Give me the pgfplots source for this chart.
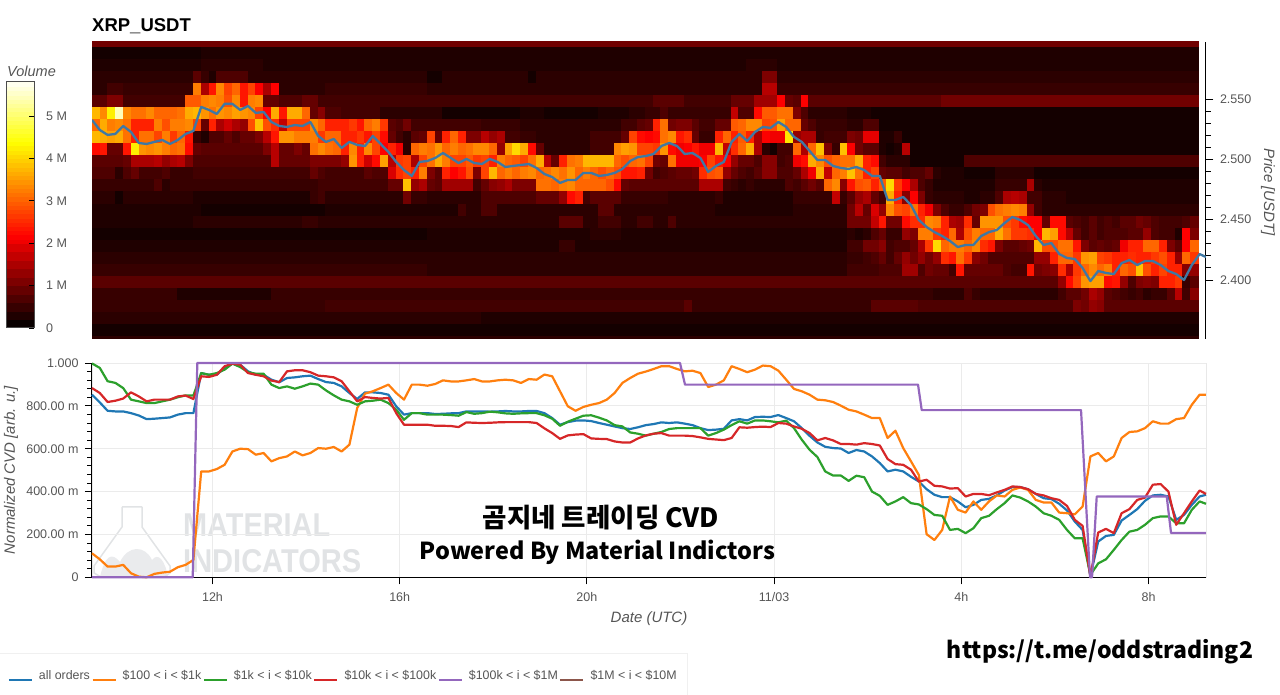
\documentclass[border=0pt]{standalone}
\usepackage{pgfplots}
\pgfplotsset{compat=1.18}
\usepackage{fontspec}
\setmainfont{Liberation Sans}
\newfontfamily\kr{Noto Sans CJK KR}
\definecolor{cBlue}{HTML}{1F77B4}
\definecolor{cOrange}{HTML}{FF7F0E}
\definecolor{cGreen}{HTML}{2CA02C}
\definecolor{cRed}{HTML}{D62728}
\definecolor{cPurple}{HTML}{9467BD}
\definecolor{cBrown}{HTML}{8C564B}
\definecolor{cPrice}{HTML}{3F78A4}
\definecolor{txt}{HTML}{555555}
\definecolor{wm}{HTML}{E1E3E5}
\pgfplotsset{colormap={hotm}{rgb255(0)=(8,0,0) rgb255(365)=(255,0,0) rgb255(746)=(255,255,0) rgb255(1000)=(255,255,255)}}
% Heat map: \heatrow{price}{last column/volume in 0.1 M, ...}
\newtoks\hc \newtoks\hrow \newcount\hcol
\def\heatpoint#1#2{\pgfmathsetmacro\hx{9.425+(\the\hcol-1)*0.16645}\pgfmathsetmacro\hy{#1-0.005}%
  \edef\tmp{\the\hrow(\hx,\hy)[#2] }\global\hrow\expandafter{\tmp}}
\def\heatfill#1#2#3{\xdef\lastv{#3}\loop\ifnum\hcol<#2\relax
  \global\advance\hcol by 1
  \heatpoint{#1}{#3}\repeat}
\def\heatrow#1#2{\global\hcol=0 \global\hrow={}%
  \foreach \e/\v in {#2}{\heatfill{#1}{\e}{\v}}%
  \global\advance\hcol by 1 \heatpoint{#1}{\lastv}%
  \edef\tmp{\the\hc\the\hrow}\global\hc\expandafter{\tmp}}
\heatrow{2.349}{142/3}
\heatrow{2.359}{142/1}
\heatrow{2.369}{50/3,142/2}
\heatrow{2.379}{30/4,60/5,76/5,77/7,100/4,106/7,109/6,126/6,127/10,128/9,129/12,130/11,142/7}
\heatrow{2.389}{11/4,23/2,108/4,112/3,113/6,114/4,124/3,125/5,127/7,128/9,129/14,130/12,131/7,132/6,133/5,134/4,135/5,136/3,138/4,139/7,140/15,141/5,142/11}
\heatrow{2.399}{124/7,125/12,126/22,127/27,128/34,130/35,131/22,132/23,133/12,134/6,135/10,136/11,137/10,138/24,139/24,140/26,141/4,142/7}
\heatrow{2.409}{43/4,97/3,101/5,104/6,106/13,107/6,108/9,110/8,111/5,112/23,113/8,117/8,118/6,120/5,121/23,122/9,123/10,124/11,125/25,126/14,127/26,128/30,129/33,130/30,131/32,132/24,133/30,134/28,135/38,136/28,137/24,138/27,140/24,141/11,142/12}
\heatrow{2.419}{97/3,99/4,100/5,101/6,102/8,103/5,104/8,105/12,106/9,107/12,108/9,109/12,110/25,111/23,112/31,113/26,114/11,115/9,121/6,123/12,124/24,126/30,127/26,128/34,129/35,130/27,131/26,133/24,134/25,136/24,137/26,138/28,139/24,140/12,141/30,142/26}
\heatrow{2.429}{60/2,62/4,97/2,99/5,101/9,102/11,103/5,105/6,106/8,107/14,108/26,109/40,110/30,112/32,113/30,114/33,115/25,116/23,117/10,119/7,120/8,121/9,122/37,124/28,126/31,127/23,128/10,129/7,130/8,131/7,132/8,133/20,135/24,137/30,138/24,139/10,140/7,141/21,142/30}
\heatrow{2.439}{43/1,64/2,68/3,97/2,98/3,99/2,100/3,101/6,102/8,104/4,105/12,106/10,108/32,109/26,110/24,111/30,112/14,113/28,114/32,116/30,117/36,118/31,120/26,121/25,122/21,123/37,124/35,125/22,126/15,127/8,128/5,129/7,130/5,133/6,135/7,136/12,137/6,139/5,140/2,141/21,142/10}
\heatrow{2.449}{13/2,27/3,29/4,60/3,63/7,65/3,68/5,70/3,72/5,74/3,75/6,97/3,100/9,101/16,102/23,104/9,105/22,107/25,108/33,109/32,110/24,111/14,112/13,113/25,114/8,117/34,118/28,119/26,120/22,122/21,123/8,125/22,126/7,127/6,128/5,129/7,130/5,131/6,132/5,134/7,135/9,136/8,137/6,140/5,141/6,142/8}
\heatrow{2.459}{14/2,27/1,30/1,47/2,48/5,50/3,52/6,65/3,67/7,80/3,90/2,97/3,98/9,99/15,100/8,101/18,102/12,103/33,104/28,105/27,106/31,107/24,108/20,109/10,110/6,112/4,113/6,114/9,115/10,116/28,117/31,118/32,119/33,120/32,121/12,122/5,142/3}
\heatrow{2.469}{3/3,4/1,13/3,28/2,29/4,30/5,40/3,41/9,43/4,50/3,57/6,60/8,61/12,62/22,63/24,64/5,68/7,74/4,80/3,81/4,90/2,95/4,96/16,97/4,98/7,99/12,100/14,101/8,102/5,103/36,104/24,105/11,106/21,107/10,108/4,112/3,114/2,116/3,117/6,118/14,119/15,120/14,122/5,125/3,142/2}
\heatrow{2.479}{8/4,9/6,10/3,29/4,38/5,40/8,41/38,42/12,43/14,44/8,45/7,49/13,50/5,51/8,52/11,53/12,54/14,57/10,59/31,60/30,61/32,62/33,63/30,66/30,67/28,68/22,69/8,78/7,81/14,82/5,83/4,84/3,85/4,89/3,90/6,91/5,92/7,93/9,94/7,95/30,96/33,97/11,98/23,99/28,100/29,101/24,102/29,103/40,104/26,105/21,106/14,107/6,108/4,116/2,120/4,121/14,122/3,142/2}
\heatrow{2.489}{3/6,4/3,5/6,6/8,9/5,10/6,13/4,28/5,29/8,30/6,35/5,36/7,38/6,39/18,40/25,41/27,42/24,43/32,44/10,45/7,46/24,47/21,48/23,49/28,50/10,51/27,52/37,53/30,54/32,55/30,56/32,57/33,58/30,59/31,60/33,61/31,62/34,63/30,64/32,65/30,66/28,67/30,68/28,70/23,71/24,72/9,73/5,74/6,75/7,77/8,78/9,79/25,80/28,81/29,82/12,83/8,84/6,85/5,86/7,88/11,90/6,91/8,92/14,93/20,94/36,95/16,96/30,97/32,98/38,99/31,100/24,101/27,102/8,104/7,105/5,107/6,108/8,109/3,112/2,116/1,121/3,142/1}
\heatrow{2.499}{4/7,5/8,8/14,9/15,10/12,11/14,12/15,13/10,23/6,24/15,28/8,32/10,33/12,34/34,35/24,36/17,37/22,38/35,39/15,40/26,41/27,42/14,43/27,44/31,45/36,46/32,48/27,49/29,50/26,51/27,52/24,53/32,54/30,55/29,56/27,57/31,58/36,59/15,60/8,61/24,62/31,63/32,67/37,68/30,69/28,70/30,71/31,72/27,73/9,74/8,75/31,78/20,79/21,80/27,81/23,82/21,83/12,85/8,86/6,88/11,89/5,90/6,91/20,92/22,93/36,94/33,95/28,96/30,98/31,99/36,100/24,101/22,102/5,105/3,112/1,142/6}
\heatrow{2.509}{1/22,2/23,4/8,5/23,6/42,7/34,8/33,9/34,10/32,11/30,12/31,13/22,14/8,22/7,23/10,24/15,26/8,27/10,28/8,29/31,30/33,31/31,32/30,33/24,34/33,35/24,36/33,37/27,38/21,39/24,40/20,41/3,42/30,43/32,44/31,45/34,46/30,47/32,48/30,49/31,51/33,52/30,53/12,54/35,55/40,56/36,57/22,58/8,64/3,67/5,68/33,69/35,70/34,72/27,73/26,74/34,75/22,76/20,77/21,78/23,80/20,81/37,82/16,83/25,84/30,85/36,86/14,87/3,88/1,90/5,91/30,92/14,93/30,94/38,95/10,96/4,97/38,98/21,99/9,101/7,102/2,103/1,104/2,105/15,142/1}
\heatrow{2.519}{1/37,2/36,3/35,4/36,5/31,6/24,8/31,9/27,10/32,11/26,12/30,13/23,14/4,15/2,17/6,18/8,19/6,21/8,22/10,23/15,24/23,26/34,29/32,30/26,32/30,34/24,35/26,36/23,37/27,38/22,39/8,40/5,41/3,42/7,43/8,44/27,45/8,46/24,47/30,48/24,50/10,51/15,52/12,53/14,55/5,57/4,64/3,68/5,69/8,70/27,71/22,72/21,73/22,74/31,75/33,76/23,77/25,78/8,80/4,81/24,82/30,83/24,84/29,85/24,86/14,87/21,89/20,90/41,91/12,93/14,94/4,97/5,98/10,99/9,101/19,103/2,104/4,142/1}
\heatrow{2.529}{1/30,2/36,3/32,4/33,5/31,8/24,9/32,10/28,12/32,13/33,14/27,15/8,16/24,17/14,18/17,19/14,20/12,21/28,22/38,23/28,24/25,25/16,28/27,29/33,30/30,33/24,34/26,35/23,36/30,37/32,38/26,39/7,40/6,41/9,50/5,55/4,68/3,70/5,71/7,72/8,73/24,74/31,75/9,77/10,78/7,80/5,82/8,83/29,84/30,86/33,87/27,88/28,89/35,91/30,92/8,93/6,97/4,99/3,101/6,142/1}
\heatrow{2.539}{1/37,2/33,3/42,4/54,5/33,7/31,8/33,9/30,11/30,12/31,13/36,14/37,15/34,16/31,17/34,18/33,19/35,20/34,21/33,22/27,23/21,24/36,25/23,27/36,28/30,29/8,30/11,32/6,37/5,45/3,55/1,58/2,65/1,69/2,71/3,73/4,74/6,82/4,83/16,85/6,86/22,88/29,90/31,91/10,92/6,97/3,100/2,142/1}
\heatrow{2.549}{2/7,4/10,12/5,14/29,15/32,16/33,17/32,18/28,19/33,20/23,21/32,22/33,24/8,27/6,29/8,72/5,76/7,82/5,85/8,88/13,89/21,90/8,91/7,92/21,109/7,142/9}
\heatrow{2.559}{2/3,4/5,13/4,14/32,15/14,16/23,17/33,18/27,19/30,20/23,21/27,22/21,23/14,24/21,30/3,43/4,86/3,88/15,142/4}
\heatrow{2.569}{13/3,14/7,15/4,16/2,20/6,43/3,45/1,56/3,57/1,86/3,88/10,142/3}
\heatrow{2.579}{14/2,22/3,84/2,88/3,142/2}
\heatrow{2.589}{14/1,142/2}
\heatrow{2.599}{142/9}
\heatrow{2.609}{142/0}
% A series on the 10-minute grid
\newtoks\hs
\newcommand\serplot[2]{\global\hs={}%
  \foreach \v [count=\i from 0] in {#2}{\pgfmathsetmacro\sx{min(33.228,9.425+\i/6)}%
    \edef\tmp{\the\hs(\sx,\v) }\global\hs\expandafter{\tmp}}%
  \edef\tmpb{\noexpand\addplot[#1] coordinates {\the\hs};}\tmpb}
\newcommand{\fs}[1]{\fontsize{#1}{#1}\selectfont}
\begin{document}
\begin{tikzpicture}[x=1pt,y=1pt]
\path[use as bounding box] (0,0) rectangle (1280,695);
\node[anchor=base west,inner sep=0pt,font=\fs{18.5}\bfseries] at (92,695-32) {XRP\_USDT};
\node[anchor=west,inner sep=0pt,font=\fs{14.5}\itshape,text=txt] at (7,695-71) {Volume};
\node[rotate=-90,inner sep=0pt,font=\fs{15}\itshape,text=txt] at (1268,695-192) {Price [USDT]};
\node[inner sep=0pt,font=\fs{15}\itshape,text=txt] at (649,695-618.5) {Date (UTC)};
\node[rotate=90,inner sep=0pt,font=\fs{15}\itshape,text=txt] at (11,695-470) {Normalized CVD [arb. u.]};
% watermark
\fill[wm!70] (100,695-577) .. controls (105,695-555) and (112,695-552) .. (120,695-562) .. controls (128,695-545) and (145,695-545) .. (152,695-560) .. controls (158,695-552) and (165,695-560) .. (168,695-577) -- cycle;
\draw[wm,line width=1.5pt] (122,695-507) -- (142,695-507) (122,695-507) -- (122,695-527) -- (94,695-566) -- (94,695-573) -- (101,695-577) (142,695-507) -- (142,695-527) -- (170,695-566) -- (170,695-573) -- (164,695-577);
\node[anchor=base west,inner sep=0pt,font=\fs{33}\bfseries,text=wm,xscale=.875] at (183,695-537) {MATERIAL};
\node[anchor=base west,inner sep=0pt,font=\fs{33}\bfseries,text=wm,xscale=.88] at (183,695-573) {INDICATORS};
\draw[draw=black!9,line width=.8pt] (92,695-577.3) rectangle (1206,695-363);
\draw[black!6,line width=.8pt] (0,695-653) -- (687,695-653) -- (687,0);
% colour bar
\begin{axis}[at={(6pt,367pt)},anchor=south west,width=28pt,height=246pt,scale only axis,
  xmin=0,xmax=1,ymin=0,ymax=5.8,xtick=\empty,ytick={0,1,2,3,4,5},
  yticklabels={0,1 M,2 M,3 M,4 M,5 M},ytick pos=right,tick align=inside,
  major tick length=5pt,tick style={black,line width=.8pt},axis on top,
  axis line style={draw=black!70,line width=1pt},
  yticklabel style={anchor=west,xshift=12pt,inner sep=0pt,font=\fs{12.5},text=txt},
  colormap name=hotm,point meta min=0,point meta max=58]
\addplot[surf,shader=flat corner,mesh/cols=2,point meta=explicit] coordinates {
(0,0)[0] (1,0)[0] (0,0.2)[2] (1,0.2)[2] (0,0.4)[4] (1,0.4)[4] (0,0.6)[6] (1,0.6)[6] (0,0.8)[8] (1,0.8)[8] (0,1)[10] (1,1)[10] (0,1.2)[12] (1,1.2)[12] (0,1.4)[14] (1,1.4)[14] (0,1.6)[16] (1,1.6)[16] (0,1.8)[18] (1,1.8)[18]
(0,2)[20] (1,2)[20] (0,2.1)[21] (1,2.1)[21] (0,2.2)[22] (1,2.2)[22] (0,2.3)[23] (1,2.3)[23] (0,2.4)[24] (1,2.4)[24] (0,2.5)[25] (1,2.5)[25] (0,2.6)[26] (1,2.6)[26] (0,2.7)[27] (1,2.7)[27] (0,2.8)[28] (1,2.8)[28] (0,2.9)[29] (1,2.9)[29]
(0,3)[30] (1,3)[30] (0,3.1)[31] (1,3.1)[31] (0,3.2)[32] (1,3.2)[32] (0,3.3)[33] (1,3.3)[33] (0,3.4)[34] (1,3.4)[34] (0,3.5)[35] (1,3.5)[35] (0,3.6)[36] (1,3.6)[36] (0,3.7)[37] (1,3.7)[37] (0,3.8)[38] (1,3.8)[38] (0,3.9)[39] (1,3.9)[39]
(0,4)[40] (1,4)[40] (0,4.1)[41] (1,4.1)[41] (0,4.2)[42] (1,4.2)[42] (0,4.3)[43] (1,4.3)[43] (0,4.4)[44] (1,4.4)[44] (0,4.5)[45] (1,4.5)[45] (0,4.6)[46] (1,4.6)[46] (0,4.7)[47] (1,4.7)[47] (0,4.8)[48] (1,4.8)[48] (0,4.9)[49] (1,4.9)[49]
(0,5)[50] (1,5)[50] (0,5.1)[51] (1,5.1)[51] (0,5.2)[52] (1,5.2)[52] (0,5.3)[53] (1,5.3)[53] (0,5.4)[54] (1,5.4)[54] (0,5.5)[55] (1,5.5)[55] (0,5.6)[56] (1,5.6)[56] (0,5.7)[57] (1,5.7)[57] (0,5.8)[58] (1,5.8)[58]};
\end{axis}
% heat map + price
\begin{axis}[at={(92pt,356pt)},anchor=south west,width=1114pt,height=297pt,scale only axis,
  xmin=9.425,xmax=33.228,ymin=2.3511,ymax=2.5972,
  axis x line=none,axis y line*=right,axis line style={-,black,line width=1pt},
  ytick={2.40,2.45,2.50,2.55},minor y tick num=4,tick align=outside,
  major tick length=7.5pt,minor tick length=5pt,
  tick style={black,line width=.9pt},
  yticklabel style={font=\fs{12.5},text=txt,xshift=3pt,/pgf/number format/.cd,fixed,fixed zerofill,precision=3,assume math mode=true},
  colormap name=hotm,point meta min=0,point meta max=58]
\edef\heatplot{\noexpand\addplot[surf,shader=flat corner,mesh/cols=143,point meta=explicit] coordinates {\the\hc};}\heatplot
\serplot{color=cPrice,line width=2.3pt,line join=round}{2.5326,2.5243,2.5202,2.5210,2.5276,2.5226,2.5135,2.5127,2.5144,2.5160,2.5127,2.5160,2.5210,2.5235,2.5434,2.5409,2.5376,2.5459,2.5459,2.5409,2.5442,2.5384,2.5392,2.5309,2.5276,2.5268,2.5284,2.5276,2.5309,2.5193,2.5144,2.5168,2.5094,2.5144,2.5119,2.5110,2.5193,2.5127,2.5061,2.4978,2.4911,2.4862,2.4978,2.4986,2.5011,2.5052,2.5011,2.4969,2.5003,2.4969,2.4961,2.5003,2.4978,2.4936,2.4945,2.4953,2.4961,2.4928,2.4878,2.4853,2.4804,2.4829,2.4829,2.4887,2.4887,2.4862,2.4870,2.4887,2.4920,2.4986,2.5019,2.5027,2.5044,2.5110,2.5135,2.5110,2.5044,2.5052,2.5011,2.4895,2.4945,2.4978,2.5144,2.5210,2.5152,2.5226,2.5268,2.5260,2.5309,2.5268,2.5185,2.5144,2.5069,2.4994,2.4994,2.4945,2.4928,2.4920,2.4936,2.4911,2.4862,2.4862,2.4663,2.4663,2.4688,2.4621,2.4497,2.4439,2.4397,2.4364,2.4323,2.4273,2.4290,2.4290,2.4364,2.4397,2.4414,2.4472,2.4522,2.4497,2.4455,2.4364,2.4290,2.4306,2.4215,2.4182,2.4174,2.4099,2.3991,2.4074,2.4058,2.4049,2.4140,2.4165,2.4124,2.4157,2.4157,2.4124,2.4074,2.4049,2.4000,2.4124,2.4215,2.4190}
\end{axis}
% CVD
\begin{axis}[at={(92pt,117.7pt)},anchor=south west,width=1114pt,height=214.3pt,scale only axis,
  xmin=9.425,xmax=33.228,ymin=0,ymax=1,clip=false,
  axis x line*=bottom,axis y line*=left,axis line style={-,black,line width=1pt},
  xtick={12,16,20,24,28,32},xticklabels={12h,16h,20h,11/03,4h,8h},
  ytick={0,0.2,0.4,0.6,0.8,1},yticklabels={0,200.00 m,400.00 m,600.00 m,800.00 m,1.000},
  minor y tick num=4,tick align=outside,major tick length=7pt,minor tick length=4.5pt,
  tick style={black,line width=.9pt},
  grid=major,major grid style={black!8,line width=.9pt},
  xticklabel style={font=\fs{12.5},text=txt,yshift=-5pt},
  yticklabel style={font=\fs{12.5},text=txt,xshift=-3pt},
  legend columns=-1,
  legend image code/.code={\draw[#1] (0pt,0pt) -- (23pt,0pt);},
  legend style={at={(-0.0785,-0.46)},anchor=west,draw=none,fill=none,font=\fs{12.4},text=txt,
    nodes={inner sep=0pt,anchor=base west},
    /tikz/every even column/.append style={column sep=1.5pt},
    /tikz/every odd column/.append style={column sep=6pt}}]
\serplot{color=cBlue,line width=2.2pt,line join=round}{.852,.816,.777,.774,.774,.766,.755,.738,.740,.743,.746,.759,.766,.766,.953,.945,.945,.977,.997,.992,.961,.945,.945,.922,.910,.930,.933,.938,.941,.925,.911,.907,.891,.860,.832,.863,.863,.860,.852,.798,.759,.766,.766,.766,.762,.763,.765,.766,.774,.774,.774,.773,.774,.776,.774,.774,.776,.776,.766,.743,.712,.724,.731,.732,.729,.720,.712,.704,.696,.692,.700,.710,.715,.723,.720,.723,.717,.710,.696,.687,.689,.693,.732,.738,.732,.748,.749,.748,.757,.743,.728,.696,.660,.629,.609,.603,.601,.580,.594,.587,.564,.533,.494,.502,.494,.469,.447,.411,.385,.374,.374,.354,.327,.338,.361,.366,.382,.405,.421,.421,.411,.389,.369,.365,.343,.312,.260,.221,.006,.167,.193,.198,.265,.291,.318,.357,.382,.385,.377,.268,.291,.338,.377,.385}
\addlegendentry{all orders}
\serplot{color=cOrange,line width=2.2pt,line join=round}{.112,.084,.050,.050,.058,.019,.003,0,.016,.022,.026,.047,.058,.081,.494,.494,.505,.525,.587,.600,.598,.572,.580,.541,.556,.564,.587,.569,.580,.603,.600,.608,.587,.619,.790,.857,.868,.883,.899,.860,.829,.899,.899,.894,.902,.919,.914,.914,.919,.925,.914,.914,.919,.922,.919,.907,.925,.922,.946,.938,.868,.798,.777,.795,.805,.813,.829,.860,.907,.930,.950,.960,.972,.985,.985,.972,.961,.964,.953,.888,.899,.919,.985,.972,.957,.969,.988,.985,.964,.922,.879,.868,.852,.829,.826,.818,.801,.782,.774,.759,.743,.743,.650,.684,.603,.541,.478,.201,.174,.221,.377,.315,.302,.354,.315,.354,.382,.377,.408,.419,.408,.361,.349,.349,.302,.299,.294,.330,.564,.580,.541,.564,.650,.678,.681,.696,.728,.717,.717,.738,.743,.805,.852,.852}
\addlegendentry{\$100 < i < \$1k}
\serplot{color=cGreen,line width=2.2pt,line join=round}{.998,.977,.915,.907,.883,.829,.821,.813,.813,.821,.829,.840,.849,.848,.953,.945,.953,.969,.997,.981,.957,.950,.950,.899,.883,.891,.880,.891,.904,.899,.872,.849,.829,.821,.805,.821,.824,.829,.813,.782,.735,.766,.766,.759,.759,.759,.757,.754,.771,.763,.766,.773,.770,.765,.763,.765,.766,.766,.756,.740,.707,.726,.740,.754,.756,.745,.732,.710,.704,.676,.670,.661,.670,.678,.692,.696,.696,.696,.696,.661,.673,.689,.710,.728,.717,.732,.732,.728,.723,.731,.696,.642,.595,.561,.494,.475,.475,.450,.474,.467,.400,.380,.338,.354,.374,.346,.340,.318,.291,.287,.221,.226,.206,.229,.276,.287,.318,.346,.382,.372,.354,.330,.299,.287,.268,.221,.182,.182,.011,.065,.084,.128,.174,.213,.221,.245,.276,.284,.284,.252,.252,.315,.354,.343}
\addlegendentry{\$1k < i < \$10k}
\serplot{color=cRed,line width=2.2pt,line join=round}{.883,.860,.818,.824,.834,.863,.844,.821,.829,.829,.829,.844,.848,.832,.938,.935,.945,.985,.997,.992,.953,.945,.938,.918,.911,.961,.966,.966,.957,.941,.938,.933,.915,.868,.821,.841,.837,.834,.837,.766,.712,.712,.712,.712,.707,.707,.706,.701,.723,.721,.720,.721,.723,.724,.724,.724,.724,.720,.695,.673,.646,.662,.666,.668,.648,.646,.645,.634,.629,.629,.648,.662,.670,.673,.661,.661,.661,.659,.653,.646,.643,.640,.650,.700,.698,.701,.703,.701,.720,.717,.704,.693,.673,.639,.650,.639,.622,.622,.619,.626,.622,.615,.552,.528,.525,.502,.447,.455,.427,.424,.414,.416,.377,.389,.389,.383,.396,.408,.424,.421,.411,.389,.382,.369,.361,.333,.268,.240,.003,.209,.226,.206,.299,.318,.361,.372,.432,.435,.400,.245,.299,.354,.405,.389}
\addlegendentry{\$10k < i < \$100k}
\addplot[color=cPurple,line width=2.2pt,line join=round] coordinates {(9.425,0) (11.577,0) (11.675,1) (21.989,1) (22.096,.899) (27.075,.899) (27.154,.78) (30.558,.78) (30.75,0) (30.793,0) (30.893,.377) (32.389,.377) (32.481,.207) (33.228,.207)};
\addlegendentry{\$100k < i < \$1M}
\addlegendimage{color=cBrown,line width=2.2pt}
\addlegendentry{\$1M < i < \$10M}
\end{axis}
\node[inner sep=0pt,font={\kr\bfseries\fs{26.5}}] at (601,695-518) {곰지네 트레이딩 CVD};
\node[inner sep=0pt,font={\kr\bfseries\fs{23.4}}] at (597.5,695-552) {Powered By Material Indictors};
\node[inner sep=0pt,font={\kr\bfseries\fs{23}}] at (1100,695-652) {https://t.me/oddstrading2};
\end{tikzpicture}
\end{document}
